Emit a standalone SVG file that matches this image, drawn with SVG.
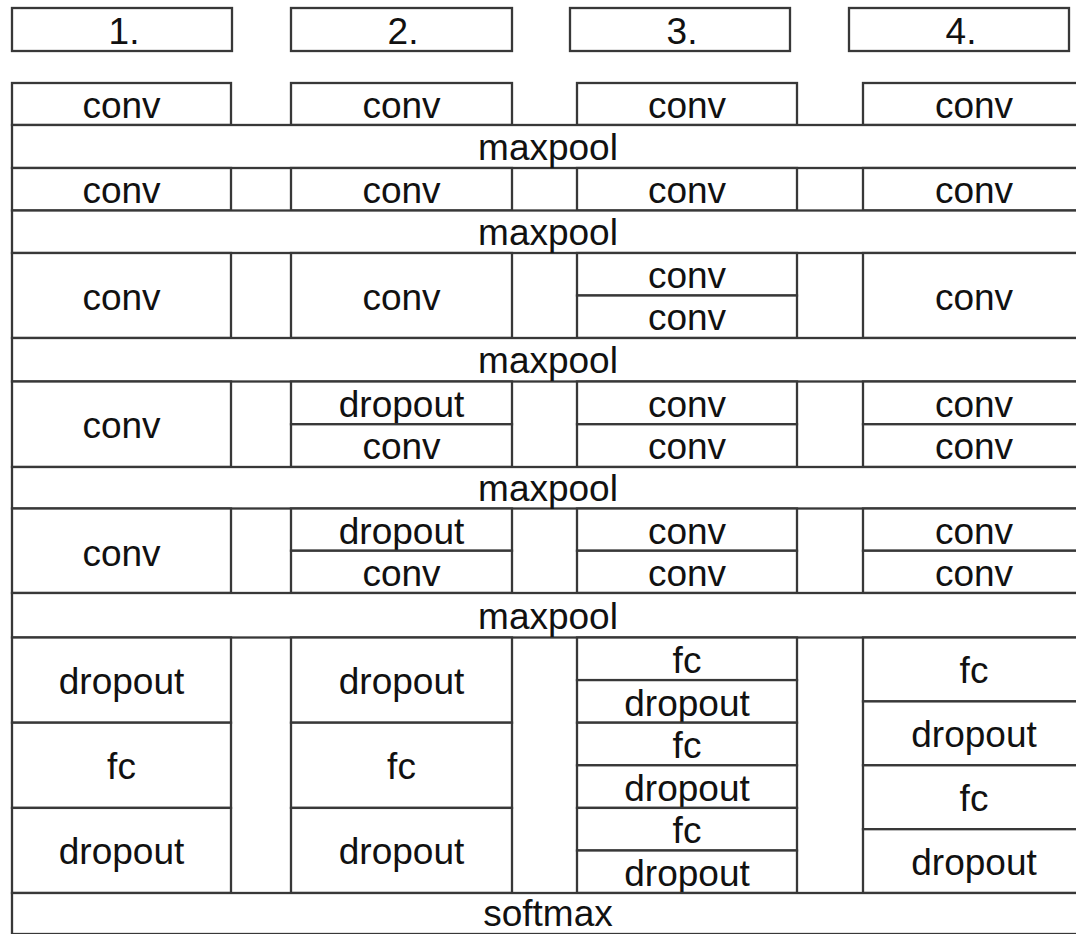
<svg xmlns="http://www.w3.org/2000/svg" width="1076" height="934" viewBox="0 0 1076 934">
<style>
.b{fill:#fff;stroke:#383838;stroke-width:2.3}
.t{font-family:"Liberation Sans",Arial,sans-serif;font-size:37px;text-anchor:middle;fill:#111}
</style>
<rect width="1076" height="934" fill="#fff"/>
<g id="headers">
<g id="h1"><rect class="b" x="12" y="8" width="220" height="43"/><text class="t" x="124" y="44">1.</text></g>
<g id="h2"><rect class="b" x="291" y="8" width="221" height="43"/><text class="t" x="403" y="44">2.</text></g>
<g id="h3"><rect class="b" x="570" y="8" width="220" height="43"/><text class="t" x="682" y="44">3.</text></g>
<g id="h4"><rect class="b" x="849" y="8" width="220" height="43"/><text class="t" x="961" y="44">4.</text></g>
</g>
<g id="row1">
<g id="r1c1"><rect class="b" x="12" y="83" width="219" height="42"/><text class="t" x="121.5" y="118">conv</text></g>
<g id="r1c2"><rect class="b" x="291" y="83" width="221" height="42"/><text class="t" x="401.5" y="118">conv</text></g>
<g id="r1c3"><rect class="b" x="577" y="83" width="220" height="42"/><text class="t" x="687" y="118">conv</text></g>
<g id="r1c4"><rect class="b" x="863" y="83" width="225" height="42"/><text class="t" x="974" y="118">conv</text></g>
</g>
<g id="mp1"><rect class="b" x="12" y="125" width="1076" height="43"/><text class="t" x="548" y="160">maxpool</text></g>
<g id="row2">
<g id="r2c1"><rect class="b" x="12" y="168" width="219" height="42.5"/><text class="t" x="121.5" y="203">conv</text></g>
<g id="r2c2"><rect class="b" x="291" y="168" width="221" height="42.5"/><text class="t" x="401.5" y="203">conv</text></g>
<g id="r2c3"><rect class="b" x="577" y="168" width="220" height="42.5"/><text class="t" x="687" y="203">conv</text></g>
<g id="r2c4"><rect class="b" x="863" y="168" width="225" height="42.5"/><text class="t" x="974" y="203">conv</text></g>
</g>
<g id="mp2"><rect class="b" x="12" y="210.5" width="1076" height="42.5"/><text class="t" x="548" y="245">maxpool</text></g>
<g id="row3">
<g id="r3c1"><rect class="b" x="12" y="253" width="219" height="85"/><text class="t" x="121.5" y="310">conv</text></g>
<g id="r3c2"><rect class="b" x="291" y="253" width="221" height="85"/><text class="t" x="401.5" y="310">conv</text></g>
<g id="r3c3"><rect class="b" x="577" y="253" width="220" height="42.5"/><text class="t" x="687" y="288">conv</text><rect class="b" x="577" y="295.5" width="220" height="42.5"/><text class="t" x="687" y="330">conv</text></g>
<g id="r3c4"><rect class="b" x="863" y="253" width="225" height="85"/><text class="t" x="974" y="310">conv</text></g>
</g>
<g id="mp3"><rect class="b" x="12" y="338" width="1076" height="43.5"/><text class="t" x="548" y="373">maxpool</text></g>
<g id="row4">
<g id="r4c1"><rect class="b" x="12" y="381.5" width="219" height="85.5"/><text class="t" x="121.5" y="438">conv</text></g>
<g id="r4c2"><rect class="b" x="291" y="381.5" width="221" height="42.75"/><text class="t" x="401.5" y="417">dropout</text><rect class="b" x="291" y="424.25" width="221" height="42.75"/><text class="t" x="401.5" y="459">conv</text></g>
<g id="r4c3"><rect class="b" x="577" y="381.5" width="220" height="42.75"/><text class="t" x="687" y="417">conv</text><rect class="b" x="577" y="424.25" width="220" height="42.75"/><text class="t" x="687" y="459">conv</text></g>
<g id="r4c4"><rect class="b" x="863" y="381.5" width="225" height="42.75"/><text class="t" x="974" y="417">conv</text><rect class="b" x="863" y="424.25" width="225" height="42.75"/><text class="t" x="974" y="459">conv</text></g>
</g>
<g id="mp4"><rect class="b" x="12" y="467" width="1076" height="41.5"/><text class="t" x="548" y="501">maxpool</text></g>
<g id="row5">
<g id="r5c1"><rect class="b" x="12" y="508.5" width="219" height="84.5"/><text class="t" x="121.5" y="566">conv</text></g>
<g id="r5c2"><rect class="b" x="291" y="508.5" width="221" height="42.25"/><text class="t" x="401.5" y="544">dropout</text><rect class="b" x="291" y="550.75" width="221" height="42.25"/><text class="t" x="401.5" y="586">conv</text></g>
<g id="r5c3"><rect class="b" x="577" y="508.5" width="220" height="42.25"/><text class="t" x="687" y="544">conv</text><rect class="b" x="577" y="550.75" width="220" height="42.25"/><text class="t" x="687" y="586">conv</text></g>
<g id="r5c4"><rect class="b" x="863" y="508.5" width="225" height="42.25"/><text class="t" x="974" y="544">conv</text><rect class="b" x="863" y="550.75" width="225" height="42.25"/><text class="t" x="974" y="586">conv</text></g>
</g>
<g id="mp5"><rect class="b" x="12" y="593" width="1076" height="44.5"/><text class="t" x="548" y="629">maxpool</text></g>
<g id="row6">
<g id="r6c1">
<rect class="b" x="12" y="637.5" width="219" height="85.2"/><text class="t" x="121.5" y="694">dropout</text>
<rect class="b" x="12" y="722.7" width="219" height="85.2"/><text class="t" x="121.5" y="779">fc</text>
<rect class="b" x="12" y="807.9" width="219" height="85.1"/><text class="t" x="121.5" y="864">dropout</text>
</g>
<g id="r6c2">
<rect class="b" x="291" y="637.5" width="221" height="85.2"/><text class="t" x="401.5" y="694">dropout</text>
<rect class="b" x="291" y="722.7" width="221" height="85.2"/><text class="t" x="401.5" y="779">fc</text>
<rect class="b" x="291" y="807.9" width="221" height="85.1"/><text class="t" x="401.5" y="864">dropout</text>
</g>
<g id="r6c3">
<rect class="b" x="577" y="637.5" width="220" height="42.6"/><text class="t" x="687" y="673">fc</text>
<rect class="b" x="577" y="680.1" width="220" height="42.6"/><text class="t" x="687" y="716">dropout</text>
<rect class="b" x="577" y="722.7" width="220" height="42.6"/><text class="t" x="687" y="758">fc</text>
<rect class="b" x="577" y="765.3" width="220" height="42.6"/><text class="t" x="687" y="801">dropout</text>
<rect class="b" x="577" y="807.9" width="220" height="42.6"/><text class="t" x="687" y="843">fc</text>
<rect class="b" x="577" y="850.5" width="220" height="42.5"/><text class="t" x="687" y="886">dropout</text>
</g>
<g id="r6c4">
<rect class="b" x="863" y="637.5" width="225" height="63.9"/><text class="t" x="974" y="683">fc</text>
<rect class="b" x="863" y="701.4" width="225" height="63.9"/><text class="t" x="974" y="747">dropout</text>
<rect class="b" x="863" y="765.3" width="225" height="63.9"/><text class="t" x="974" y="811">fc</text>
<rect class="b" x="863" y="829.2" width="225" height="63.8"/><text class="t" x="974" y="875">dropout</text>
</g>
</g>
<g id="softmax"><rect class="b" x="12" y="893" width="1076" height="41"/><text class="t" x="548" y="926">softmax</text></g>
<g id="connectors"/>
</svg>
